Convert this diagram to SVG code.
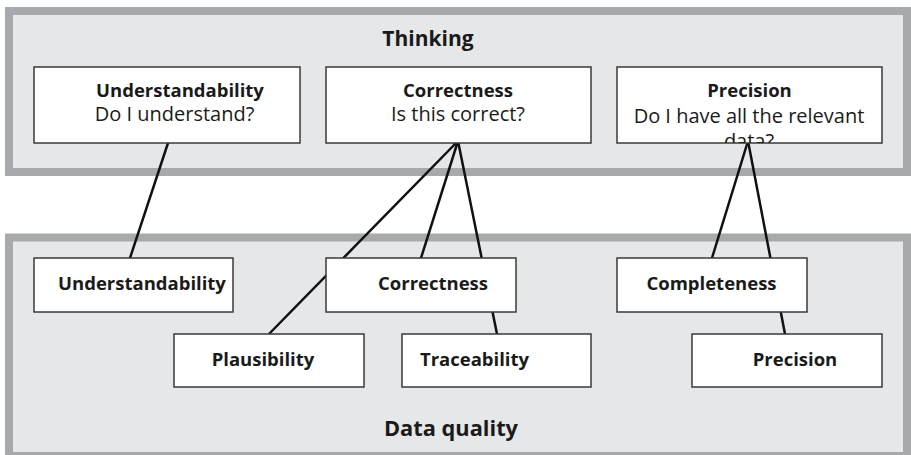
<svg xmlns="http://www.w3.org/2000/svg" width="911" height="455" viewBox="0 0 911 455">
<style>
.panel{fill:#e6e7e8;stroke:#a7a9ac;stroke-width:8}
.box{fill:#fff;stroke:#3a3a3a;stroke-width:1.5}
.t{font-family:"Open Sans","Liberation Sans",sans-serif;fill:#1a1a1a;text-anchor:middle}
.b{font-weight:bold;font-size:18.5px}
.r{font-size:20px}
.h{font-weight:bold;font-size:21px}
.c{stroke:#111;stroke-width:2.5;fill:none;stroke-linecap:round}
</style>
<defs>
<clipPath id="clipPrec"><rect x="617" y="67" width="265" height="76"/></clipPath>
</defs>
<rect width="911" height="455" fill="#fff"/>
<g id="panel-thinking">
<rect class="panel" x="9" y="11" width="898" height="161"/>
<text class="t h" x="428" y="46">Thinking</text>
</g>
<g id="panel-dataquality">
<rect class="panel" x="9" y="237.5" width="898" height="218.5"/>
<text class="t h" x="451" y="436" style="font-size:21.8px">Data quality</text>
</g>
<g id="connectors">
<line class="c" x1="168" y1="143" x2="130" y2="258"/>
<line class="c" x1="458" y1="141" x2="269" y2="334"/>
<line class="c" x1="458" y1="141" x2="421" y2="258"/>
<line class="c" x1="458" y1="141" x2="497" y2="334"/>
<line class="c" x1="748" y1="141" x2="712" y2="258"/>
<line class="c" x1="748" y1="141" x2="785" y2="334"/>
</g>
<g id="think-understandability">
<rect class="box" x="34" y="67" width="266" height="76"/>
<text class="t b" x="180" y="97">Understandability</text>
<text class="t r" x="174.5" y="121">Do I understand?</text>
</g>
<g id="think-correctness">
<rect class="box" x="326" y="67" width="265" height="76"/>
<text class="t b" x="458" y="97">Correctness</text>
<text class="t r" x="458" y="121">Is this correct?</text>
</g>
<g id="think-precision">
<rect class="box" x="617" y="67" width="265" height="76"/>
<g clip-path="url(#clipPrec)">
<text class="t b" x="749.5" y="97">Precision</text>
<text class="t r" x="749" y="123">Do I have all the relevant</text>
<text class="t r" x="749" y="148">data?</text>
</g>
</g>
<g id="dq-understandability">
<rect class="box" x="34" y="258" width="199" height="54"/>
<text class="t b" x="142" y="290">Understandability</text>
</g>
<g id="dq-correctness">
<rect class="box" x="326" y="258" width="190" height="54"/>
<text class="t b" x="433" y="290">Correctness</text>
</g>
<g id="dq-completeness">
<rect class="box" x="617" y="258" width="190" height="54"/>
<text class="t b" x="711.5" y="290">Completeness</text>
</g>
<g id="dq-plausibility">
<rect class="box" x="174" y="334" width="190" height="53"/>
<text class="t b" x="263" y="366">Plausibility</text>
</g>
<g id="dq-traceability">
<rect class="box" x="402" y="334" width="189" height="53"/>
<text class="t b" x="474.5" y="366">Traceability</text>
</g>
<g id="dq-precision">
<rect class="box" x="692" y="334" width="190" height="53"/>
<text class="t b" x="795" y="366">Precision</text>
</g>
</svg>
